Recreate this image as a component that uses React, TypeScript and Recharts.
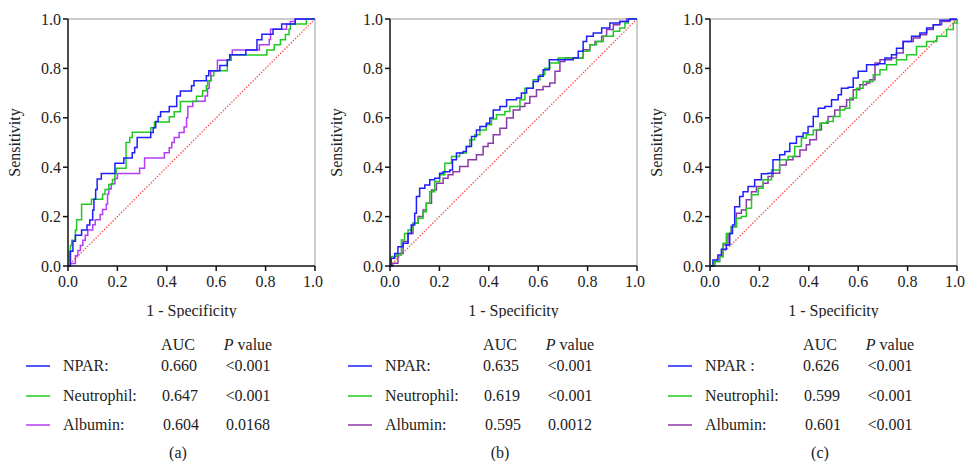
import { LineChart, Line, XAxis, YAxis, ReferenceLine } from 'recharts'

// ROC points as [1 - specificity, sensitivity]
const npar_a = [[0,0],[0.01,0.06],[0.02,0.1],[0.03,0.125],[0.055,0.146],[0.077,0.166],[0.088,0.186],[0.1,0.227],[0.105,0.27],[0.112,0.31],[0.118,0.352],[0.135,0.375],[0.19,0.416],[0.226,0.437],[0.26,0.458],[0.27,0.48],[0.28,0.52],[0.335,0.54],[0.345,0.56],[0.355,0.585],[0.365,0.605],[0.375,0.625],[0.41,0.646],[0.44,0.688],[0.455,0.708],[0.5,0.73],[0.51,0.75],[0.56,0.77],[0.57,0.79],[0.615,0.812],[0.645,0.835],[0.655,0.855],[0.72,0.875],[0.765,0.916],[0.785,0.938],[0.83,0.958],[0.865,0.98],[0.92,1.0],[1,1]]
const neut_a = [[0,0],[0.005,0.06],[0.01,0.083],[0.015,0.104],[0.03,0.146],[0.035,0.187],[0.055,0.25],[0.095,0.27],[0.14,0.29],[0.15,0.31],[0.165,0.33],[0.18,0.35],[0.19,0.375],[0.195,0.396],[0.235,0.5],[0.25,0.52],[0.26,0.542],[0.335,0.56],[0.35,0.583],[0.41,0.604],[0.43,0.625],[0.455,0.666],[0.52,0.687],[0.545,0.71],[0.56,0.73],[0.565,0.75],[0.58,0.77],[0.59,0.79],[0.645,0.833],[0.66,0.854],[0.805,0.875],[0.835,0.896],[0.86,0.916],[0.88,0.937],[0.895,0.958],[0.9,0.98],[0.965,1.0],[1,1]]
const albu_a = [[0,0],[0.01,0.01],[0.03,0.042],[0.04,0.063],[0.05,0.083],[0.06,0.104],[0.07,0.125],[0.08,0.146],[0.1,0.167],[0.11,0.187],[0.13,0.208],[0.14,0.229],[0.155,0.25],[0.16,0.292],[0.165,0.312],[0.175,0.333],[0.19,0.354],[0.2,0.375],[0.29,0.396],[0.31,0.437],[0.39,0.458],[0.41,0.479],[0.42,0.5],[0.43,0.52],[0.45,0.54],[0.47,0.563],[0.48,0.6],[0.485,0.646],[0.505,0.667],[0.555,0.688],[0.565,0.72],[0.572,0.75],[0.578,0.79],[0.605,0.833],[0.66,0.854],[0.665,0.875],[0.775,0.896],[0.815,0.917],[0.82,0.958],[0.885,0.979],[0.9,0.99],[0.92,1.0],[1,1]]

const npar_b = [[0,0],[0.005,0.031],[0.019,0.051],[0.032,0.078],[0.053,0.092],[0.073,0.132],[0.086,0.166],[0.1,0.214],[0.107,0.281],[0.12,0.315],[0.141,0.328],[0.161,0.349],[0.181,0.355],[0.201,0.376],[0.215,0.382],[0.242,0.389],[0.253,0.43],[0.269,0.457],[0.296,0.464],[0.309,0.484],[0.33,0.524],[0.35,0.551],[0.364,0.565],[0.39,0.578],[0.404,0.599],[0.418,0.632],[0.445,0.646],[0.472,0.673],[0.512,0.68],[0.532,0.7],[0.553,0.72],[0.58,0.747],[0.6,0.768],[0.62,0.795],[0.645,0.835],[0.742,0.842],[0.762,0.869],[0.782,0.909],[0.796,0.93],[0.823,0.943],[0.857,0.964],[0.89,0.984],[0.93,0.99],[0.965,1.0],[1,1]]
const neut_b = [[0,0],[0.005,0.038],[0.026,0.045],[0.046,0.105],[0.059,0.132],[0.073,0.146],[0.093,0.173],[0.114,0.193],[0.134,0.22],[0.147,0.254],[0.161,0.301],[0.181,0.342],[0.201,0.369],[0.222,0.416],[0.249,0.443],[0.282,0.457],[0.309,0.484],[0.323,0.511],[0.343,0.531],[0.364,0.551],[0.39,0.572],[0.411,0.595],[0.431,0.612],[0.465,0.626],[0.485,0.646],[0.526,0.673],[0.546,0.72],[0.58,0.754],[0.607,0.774],[0.627,0.801],[0.647,0.822],[0.681,0.842],[0.782,0.869],[0.809,0.896],[0.836,0.909],[0.864,0.93],[0.904,0.95],[0.93,0.964],[0.951,0.984],[0.965,1.0],[1,1]]
const albu_b = [[0,0],[0.012,0.011],[0.032,0.051],[0.053,0.099],[0.073,0.132],[0.093,0.173],[0.114,0.2],[0.134,0.227],[0.147,0.254],[0.168,0.308],[0.188,0.335],[0.215,0.355],[0.235,0.369],[0.255,0.382],[0.282,0.403],[0.316,0.43],[0.35,0.45],[0.377,0.484],[0.397,0.497],[0.418,0.531],[0.445,0.558],[0.472,0.599],[0.499,0.632],[0.526,0.646],[0.546,0.659],[0.566,0.686],[0.593,0.714],[0.62,0.727],[0.647,0.741],[0.668,0.788],[0.688,0.828],[0.708,0.842],[0.782,0.876],[0.809,0.896],[0.83,0.909],[0.857,0.93],[0.877,0.957],[0.904,0.977],[0.93,0.99],[0.958,1],[1,1]]

const npar_c = [[0,0],[0.012,0.024],[0.032,0.045],[0.046,0.068],[0.066,0.085],[0.08,0.132],[0.091,0.166],[0.1,0.24],[0.12,0.281],[0.134,0.301],[0.154,0.322],[0.181,0.349],[0.208,0.373],[0.235,0.376],[0.255,0.43],[0.282,0.45],[0.303,0.464],[0.323,0.497],[0.35,0.524],[0.377,0.538],[0.397,0.565],[0.418,0.605],[0.438,0.639],[0.465,0.646],[0.492,0.673],[0.519,0.693],[0.532,0.72],[0.559,0.724],[0.58,0.761],[0.6,0.788],[0.634,0.815],[0.681,0.819],[0.708,0.842],[0.735,0.855],[0.755,0.882],[0.782,0.909],[0.816,0.93],[0.85,0.943],[0.877,0.964],[0.904,0.977],[0.931,0.995],[0.972,1],[1,1]]
const neut_c = [[0,0],[0.019,0.018],[0.039,0.038],[0.053,0.092],[0.066,0.132],[0.086,0.159],[0.107,0.193],[0.127,0.2],[0.147,0.234],[0.168,0.288],[0.195,0.315],[0.215,0.349],[0.249,0.389],[0.282,0.43],[0.316,0.443],[0.343,0.484],[0.37,0.518],[0.39,0.531],[0.418,0.551],[0.445,0.578],[0.472,0.585],[0.499,0.605],[0.526,0.632],[0.546,0.639],[0.566,0.68],[0.593,0.72],[0.62,0.747],[0.661,0.774],[0.688,0.795],[0.715,0.815],[0.755,0.835],[0.796,0.855],[0.836,0.889],[0.877,0.909],[0.918,0.93],[0.958,0.957],[0.985,0.984],[1,1]]
const albu_c = [[0,0],[0.019,0.018],[0.039,0.038],[0.053,0.085],[0.073,0.132],[0.086,0.159],[0.107,0.214],[0.127,0.227],[0.147,0.268],[0.168,0.301],[0.188,0.322],[0.215,0.335],[0.235,0.362],[0.255,0.376],[0.282,0.409],[0.309,0.43],[0.336,0.443],[0.364,0.47],[0.39,0.491],[0.404,0.511],[0.431,0.551],[0.451,0.578],[0.478,0.605],[0.505,0.632],[0.526,0.646],[0.553,0.673],[0.58,0.714],[0.607,0.734],[0.634,0.741],[0.647,0.754],[0.668,0.822],[0.688,0.835],[0.735,0.842],[0.755,0.862],[0.782,0.909],[0.823,0.923],[0.85,0.936],[0.877,0.957],[0.904,0.977],[0.938,0.99],[0.972,0.997],[1,1]]

const diagonal = [[0,0],[1,1]]

const ticks = [0, 0.2, 0.4, 0.6, 0.8, 1.0]
const seriesNames = ['NPAR:', 'Neutrophil:', 'Albumin:']
const aucValues = [['0.660', '0.647', '0.604'], ['0.635', '0.619', '0.595'], ['0.626', '0.599', '0.601']]
const pValues = [['<0.001', '<0.001', '0.0168'], ['<0.001', '<0.001', '0.0012'], ['<0.001', '<0.001', '<0.001']]
const captions = ['(a)', '(b)', '(c)']

const toPts = (arr: number[][]) => arr.map(([x, y]) => ({ x, y }))

const panels = [
  { left: 0, curves: [npar_a, neut_a, albu_a], colors: ['#1e1eff', '#22c922', '#b43cf5'], names: seriesNames },
  { left: 322, curves: [npar_b, neut_b, albu_b], colors: ['#1e1eff', '#22c922', '#8a3aa8'], names: seriesNames },
  { left: 642, curves: [npar_c, neut_c, albu_c], colors: ['#1e1eff', '#22c922', '#8a3aa8'], names: ['NPAR :', 'Neutrophil:', 'Albumin:'] },
]

const font = '"Liberation Serif", "Times New Roman", serif'

function Panel({ idx }: { idx: number }) {
  const p = panels[idx]
  const rowsY = [366, 396, 425]
  const txt = (top: number, left: number, content: any, center = true) => (
    <div
      style={{
        position: 'absolute',
        top: top - 10,
        left: center ? left - 40 : left,
        width: center ? 80 : 120,
        textAlign: center ? 'center' : 'left',
        lineHeight: '20px',
        fontSize: 16,
        color: '#222',
        whiteSpace: 'nowrap',
      }}
    >
      {content}
    </div>
  )
  return (
    <div style={{ position: 'absolute', left: p.left, top: 0, width: 323, height: 461 }}>
      <LineChart width={323} height={318} margin={{ top: 19, right: 8, left: 0, bottom: 0 }}>
        <XAxis
          dataKey="x"
          type="number"
          domain={[0, 1]}
          ticks={ticks}
          tickFormatter={(v: number) => v.toFixed(1)}
          height={52}
          tickSize={5}
          tickMargin={5}
          stroke="#111"
          strokeWidth={1.5}
          tick={{ fill: '#222', fontSize: 16, fontFamily: font }}
          label={{ value: '1 - Specificity', position: 'insideBottom', offset: 2, fill: '#222', fontSize: 16, fontFamily: font }}
        />
        <YAxis
          dataKey="y"
          type="number"
          domain={[0, 1]}
          ticks={ticks}
          tickFormatter={(v: number) => v.toFixed(1)}
          width={68}
          tickSize={5}
          stroke="#111"
          strokeWidth={1.5}
          tick={{ fill: '#222', fontSize: 16, fontFamily: font }}
          label={{ value: 'Sensitivity', angle: -90, position: 'insideLeft', offset: 14, style: { textAnchor: 'middle' }, fill: '#222', fontSize: 16, fontFamily: font }}
        />
        <ReferenceLine y={1} stroke="#999" strokeWidth={1} />
        <ReferenceLine x={1} stroke="#999" strokeWidth={1} />
        <ReferenceLine
          segment={toPts(diagonal)}
          stroke="#ff5050"
          strokeOpacity={1}
          strokeWidth={1.3}
          strokeDasharray="1.5 1.5"
          ifOverflow="visible"
        />
        {[2, 1, 0].map((i) => (
          <Line
            key={i}
            data={toPts(p.curves[i])}
            dataKey="y"
            type="stepAfter"
            stroke={p.colors[i]}
            strokeWidth={1.5}
            dot={false}
            isAnimationActive={false}
          />
        ))}
      </LineChart>
      {txt(345, 178, 'AUC')}
      {txt(345, 248, <span><i>P</i> value</span>)}
      {p.names.map((n, i) => (
        <div key={n}>
          <div style={{ position: 'absolute', top: rowsY[i] - 1, left: 26, width: 24, height: 1.5, background: p.colors[i], opacity: 0.75 }} />
          {txt(rowsY[i], 63, n, false)}
          {txt(rowsY[i], 179 + i, aucValues[idx][i])}
          {txt(rowsY[i], 248, pValues[idx][i])}
        </div>
      ))}
      {txt(453, 178, captions[idx])}
    </div>
  )
}

export default function App() {
  return (
    <div
      style={{
        position: 'absolute',
        left: 0,
        top: 0,
        width: 965,
        height: 461,
        background: '#fff',
        fontFamily: font,
        overflow: 'hidden',
      }}
    >
      {panels.map((_, i) => (
        <Panel key={i} idx={i} />
      ))}
    </div>
  )
}
